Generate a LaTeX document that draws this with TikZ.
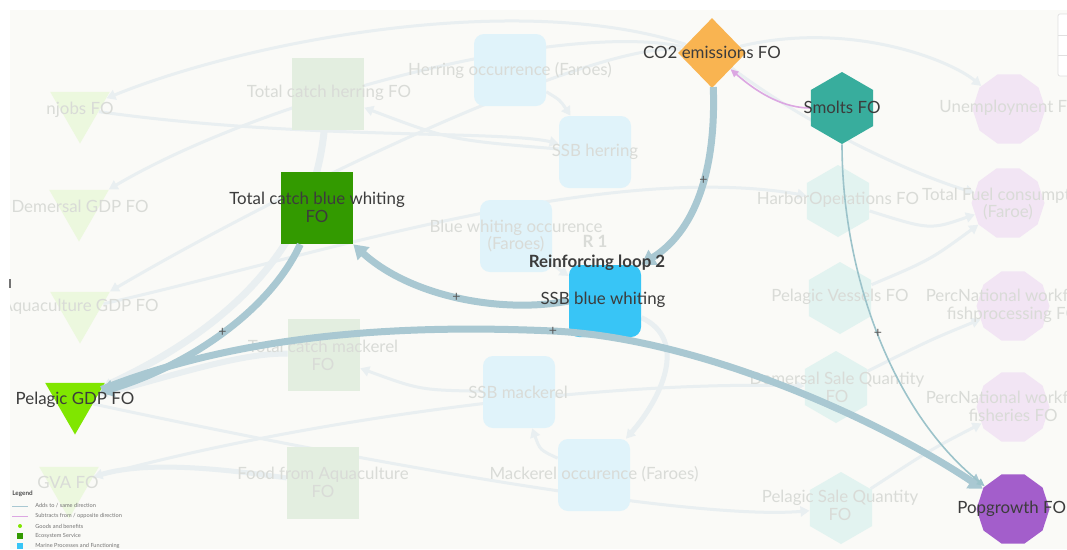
\documentclass[tikz,border=0pt]{standalone}
\usepackage{fontspec}
\setmainfont{Lato}
\usepackage{tikz}
\usetikzlibrary{arrows.meta, backgrounds, calc, positioning, shapes.geometric}

\definecolor{panelbg}{HTML}{FAFAF7}
\definecolor{co2orange}{HTML}{F9B451}
\definecolor{smoltteal}{HTML}{38AD9D}
\definecolor{catchgreen}{HTML}{339A00}
\definecolor{ssbblue}{HTML}{38C5F6}
\definecolor{gdplime}{HTML}{80E600}
\definecolor{popurple}{HTML}{A35ECB}
\definecolor{fadegreen}{HTML}{E3EEE0}
\definecolor{fadeblue}{HTML}{E0F3FA}
\definecolor{fadeteal}{HTML}{E2F3F0}
\definecolor{fadepurple}{HTML}{F2E5F4}
\definecolor{fadelime}{HTML}{ECF8DE}
\definecolor{fadetext}{HTML}{D9DBD7}
\definecolor{labeltext}{HTML}{3C3C3C}
\definecolor{linkblue}{HTML}{A9C8D2}
\definecolor{linkthin}{HTML}{9CC3CA}
\definecolor{linkpink}{HTML}{DCA7E2}
\definecolor{linkfaint}{HTML}{E9EFF1}

\newlength{\pxu}
\setlength{\pxu}{0.02cm}

\begin{document}
\begin{tikzpicture}[x=0.02cm, y=-0.02cm,
  lbl/.style={font=\fontsize{9.6}{10.2}\selectfont, text=labeltext, align=center, inner sep=0pt},
  fadelbl/.style={lbl, text=fadetext},
  boxnode/.style={rectangle, minimum size=72\pxu, inner sep=0pt},
  roundnode/.style={rectangle, rounded corners=10\pxu, minimum size=72\pxu, inner sep=0pt},
  hexnode/.style={regular polygon, regular polygon sides=6, shape border rotate=30, minimum size=72\pxu, inner sep=0pt},
  decnode/.style={regular polygon, regular polygon sides=10, minimum size=73\pxu, inner sep=0pt},
  trinode/.style={regular polygon, regular polygon sides=3, shape border rotate=180, minimum size=69\pxu, inner sep=0pt},
  link/.style={draw=linkblue, line width=7\pxu, -{Triangle[length=7.9pt, width=9.6pt]}},
  thinlink/.style={draw=linkthin, line width=1.6\pxu, -{Triangle[length=4.5pt, width=4pt]}},
  faintlink/.style={draw=linkfaint, line width=3\pxu, -{Triangle[length=5.1pt, width=5.7pt]}},
  plus/.style={font=\fontsize{8}{8}\selectfont, text=black!65, inner sep=0pt},
  legendtxt/.style={font=\fontsize{3.2}{3.5}\selectfont, text=black!55, anchor=west, inner sep=0pt}]

\useasboundingbox (0,0) rectangle (1067,549);

\begin{scope}
\clip (10,10) rectangle (1067,549);

% faded nodes, left column
\node[trinode, fill=fadelime] (njobs) at (80,109) {};
\node[trinode, fill=fadelime] (dgdp) at (79,207) {};
\node[trinode, fill=fadelime] (agdp) at (80,309) {};
\node[trinode, fill=fadelime] (gva) at (69,484) {};

% faded nodes, green squares
\node[boxnode, fill=fadegreen] (thc) at (328,94) {};
\node[boxnode, fill=fadegreen] (tcm) at (324,355) {};
\node[boxnode, fill=fadegreen] (tfa) at (323,483) {};

% faded nodes, blue squares
\node[roundnode, fill=fadeblue] (hocc) at (510,70) {};
\node[roundnode, fill=fadeblue] (ssbh) at (595,152) {};
\node[roundnode, fill=fadeblue] (bwocc) at (516,236) {};
\node[roundnode, fill=fadeblue] (ssbm) at (519,392) {};
\node[roundnode, fill=fadeblue] (mocc) at (594,475) {};

% faded nodes, hexagons and decagons
\node[hexnode, fill=fadeteal] (harbor) at (838,201) {};
\node[hexnode, fill=fadeteal] (pvess) at (840,298) {};
\node[hexnode, fill=fadeteal] (dsq) at (836,387) {};
\node[hexnode, fill=fadeteal] (psq) at (841,508) {};
\node[decnode, fill=fadepurple] (unemp) at (1009,109) {};
\node[decnode, fill=fadepurple] (tfuel) at (1008,203) {};
\node[decnode, fill=fadepurple] (pnwfp) at (1013,306) {};
\node[decnode, fill=fadepurple] (pnwf) at (1013,407) {};

% highlighted nodes
\node[diamond, fill=co2orange, minimum width=68\pxu, minimum height=70\pxu, inner sep=0pt] (co2) at (712,53) {};
\node[hexnode, fill=smoltteal] (smolts) at (842,108) {};
\node[boxnode, fill=catchgreen] (tcbw) at (317,208) {};
\node[roundnode, fill=ssbblue] (ssbbw) at (605,301) {};
\node[trinode, fill=gdplime] (pgdp) at (75,400) {};
\node[decnode, fill=popurple] (popg) at (1013,509) {};

% faint links, behind everything
\begin{pgfonlayer}{background}
\fill[white] (0,0) rectangle (1067,549);
\fill[panelbg] (10,10) rectangle (1067,549);
\draw[faintlink, line width=7\pxu] (thc) .. controls (318,190) and (290,300) .. (pgdp);
\draw[faintlink, line width=6\pxu] (tcm) .. controls (240,352) and (160,380) .. (pgdp);
\draw[faintlink, line width=5\pxu] (tfa) .. controls (230,470) and (150,460) .. (gva);
\draw[faintlink] (co2) .. controls (520,-10) and (250,40) .. (njobs);
\draw[faintlink] (co2) .. controls (560,20) and (260,100) .. (dgdp);
\draw[faintlink] (co2) .. controls (600,40) and (300,180) .. (agdp);
\draw[faintlink] (co2) .. controls (850,20) and (950,60) .. (unemp);
\draw[faintlink] (co2) .. controls (800,120) and (900,170) .. (tfuel);
\draw[faintlink] (hocc) .. controls (560,100) .. (ssbh);
\draw[faintlink] (ssbh) .. controls (450,140) .. (thc);
\draw[faintlink] (bwocc) .. controls (560,270) .. (ssbbw);
\draw[faintlink] (mocc) .. controls (540,450) .. (ssbm);
\draw[faintlink] (ssbm) .. controls (420,390) .. (tcm);
\draw[faintlink] (harbor) .. controls (930,230) .. (tfuel);
\draw[faintlink] (pvess) .. controls (930,260) .. (tfuel);
\draw[faintlink] (dsq) .. controls (930,340) .. (pnwfp);
\draw[faintlink] (psq) .. controls (930,450) .. (pnwf);
\draw[faintlink] (pgdp) .. controls (400,470) and (700,520) .. (psq);
\draw[faintlink] (gva) .. controls (300,420) and (600,380) .. (dsq);
\draw[faintlink, line width=5\pxu] (ssbbw) .. controls (690,340) and (660,400) .. (mocc);
\draw[faintlink] (agdp) .. controls (300,260) and (600,160) .. (harbor);
\draw[faintlink] (njobs) .. controls (300,140) and (500,130) .. (ssbh);
\end{pgfonlayer}

% faded labels
\node[fadelbl] at (80,110) {njobs FO};
\node[fadelbl] at (80,206) {Demersal GDP FO};
\node[fadelbl] at (80,307) {Aquaculture GDP FO};
\node[fadelbl] at (68,482) {GVA FO};
\node[fadelbl] at (329,93) {Total catch herring FO};
\node[fadelbl] at (323,355) {Total catch mackerel\\FO};
\node[fadelbl] at (323,482) {Food from Aquaculture\\FO};
\node[fadelbl] at (510,70) {Herring occurrence (Faroes)};
\node[fadelbl] at (595,152) {SSB herring};
\node[fadelbl] at (516,236) {Blue whiting occurence\\(Faroes)};
\node[fadelbl] at (518,392) {SSB mackerel};
\node[fadelbl] at (594,474) {Mackerel occurence (Faroes)};
\node[fadelbl] at (838,200) {HarborOperations FO};
\node[fadelbl] at (840,297) {Pelagic Vessels FO};
\node[fadelbl] at (837,387) {Demersal Sale Quantity\\FO};
\node[fadelbl] at (840,505) {Pelagic Sale Quantity\\FO};
\node[fadelbl] at (1010,108) {Unemployment FO};
\node[fadelbl] at (1008,204) {Total Fuel consumption\\(Faroe)};
\node[fadelbl] at (1013,306) {PercNational workforce\\fishprocessing FO};
\node[fadelbl] at (1013,406) {PercNational workforce\\fisheries FO};
\node[fadelbl, font=\bfseries\fontsize{9.6}{10.2}\selectfont] at (595,241) {R 1};

% highlighted links
\draw[link] (co2) .. controls (716,160) and (700,228) .. (ssbbw.north east)
  node[plus, pos=0.45] {+};
\draw[link] (ssbbw.west) .. controls (500,314) and (410,296) .. (tcbw.south east)
  node[plus, pos=0.5] {+};
\draw[link] (tcbw) .. controls (270,310) and (190,365) .. (pgdp)
  node[plus, pos=0.5] {+};
\draw[link] (pgdp) .. controls (250,330) and (420,325) .. (553,331) node[plus] {+}
  .. controls (700,338) and (880,420) .. (popg);
\draw[thinlink] (smolts) .. controls (842,270) and (890,410) .. (popg)
  node[plus, pos=0.5] {+};
\draw[thinlink, draw=linkpink] (smolts) .. controls (785,108) and (760,95) .. (co2);

% highlighted labels
\node[lbl] at (712,52) {CO2 emissions FO};
\node[lbl] at (842,107) {Smolts FO};
\node[lbl] at (317,207) {Total catch blue whiting\\FO};
\node[lbl, font=\bfseries\fontsize{9.6}{10.2}\selectfont] at (597,263) {Reinforcing loop 2};
\node[lbl] at (603,300) {SSB blue whiting};
\node[lbl] at (75,400) {Pelagic GDP FO};
\node[lbl, anchor=west] at (957,509) {Popgrowth FO};

% legend
\node[legendtxt, font=\bfseries\fontsize{3.6}{4}\selectfont, text=black!70] at (12,494) {Legend};
\draw[linkblue, line width=0.8\pxu] (12,506) -- (28,506);
\node[legendtxt] at (35,506) {Adds to / same direction};
\draw[linkpink, line width=0.8\pxu] (12,516) -- (28,516);
\node[legendtxt] at (35,516) {Subtracts from / opposite direction};
\fill[gdplime] (20,526) circle (2);
\node[legendtxt] at (35,526) {Goods and benefits};
\fill[catchgreen] (17,533) rectangle (23,539);
\node[legendtxt] at (35,536) {Ecosystem Service};
\fill[ssbblue] (17,543) rectangle (23,549);
\node[legendtxt] at (35,546) {Marine Processes and Functioning};
\end{scope}

% toolbar and edge mark
\draw[black!12, fill=white, rounded corners=2\pxu] (1058,14) rectangle (1072,76);
\draw[black!12] (1058,35) -- (1067,35) (1058,55) -- (1067,55);
\fill[black!55] (9,279) rectangle (11,288);

\end{tikzpicture}
\end{document}
